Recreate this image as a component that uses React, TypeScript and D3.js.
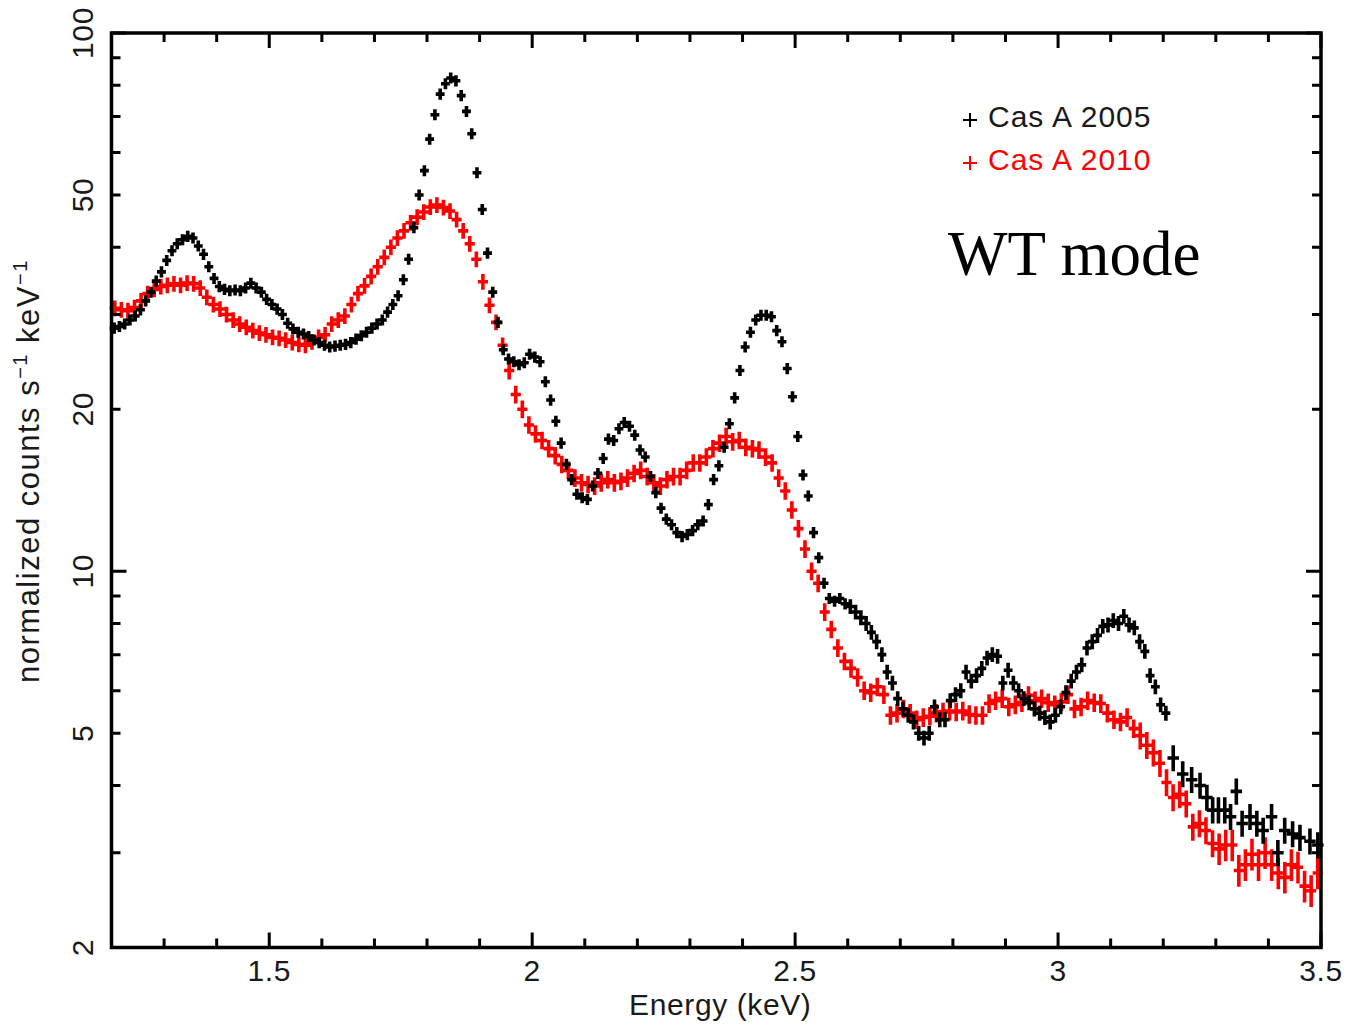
import React from 'react';
import * as d3 from 'd3';

// ---------- data ----------
// Cas A 2005 (black): bins of 0.01 keV starting at 1.205 keV
const blackValues = [
  28.3, 28.5, 28.8, 29.3, 29.8, 30.6, 31.8, 33.0, 34.6, 36.0,
  37.8, 39.4, 40.6, 41.3, 41.9, 41.6, 40.2, 38.8, 36.8, 35.0,
  33.8, 33.4, 33.2, 33.3, 33.2, 33.6, 34.3, 33.6, 33.0, 32.0,
  31.3, 30.7, 30.0, 28.9, 28.2, 27.8, 27.6, 27.3, 26.9, 26.6,
  26.3, 26.1, 26.2, 26.3, 26.4, 26.6, 27.0, 27.4, 27.8, 28.3,
  28.8, 29.3, 30.3, 31.3, 32.5, 34.8, 38.0, 43.5, 50.0, 55.5,
  63.5, 70.5, 77.0, 80.5, 82.5, 81.5, 76.5, 71.5, 65.0, 55.0,
  47.0, 39.0, 33.0, 29.0, 25.8, 24.8, 24.5, 24.2, 24.4, 25.3,
  25.0, 24.5, 22.5, 20.8, 19.0, 17.3, 15.8, 14.8, 13.9, 13.7,
  13.6, 14.4, 15.2, 16.2, 17.6, 17.5, 18.4, 18.9, 18.6, 17.9,
  16.8, 16.3, 15.0, 14.0, 13.1, 12.5, 12.2, 11.8, 11.6, 11.7,
  11.9, 12.2, 12.4, 13.3, 14.8, 15.7, 17.0, 18.8, 21.0, 23.6,
  26.1, 27.8, 29.3, 29.9, 29.9, 29.7, 28.0, 26.7, 23.8, 21.1,
  17.8, 15.1, 13.8, 11.8, 10.6, 9.5, 8.9, 8.8, 8.9, 8.7,
  8.6, 8.4, 8.2, 8.0, 7.7, 7.4, 7.0, 6.5, 6.2, 5.8,
  5.55, 5.4, 5.25, 5.0, 4.9, 5.0, 5.6, 5.3, 5.3, 5.75,
  5.9, 6.0, 6.5, 6.25, 6.4, 6.6, 6.9, 7.0, 6.95, 6.2,
  6.55, 6.2, 6.0, 5.8, 5.7, 5.55, 5.45, 5.35, 5.25, 5.4,
  5.6, 5.95, 6.25, 6.5, 6.7, 7.2, 7.4, 7.6, 7.9, 7.95,
  8.1, 8.0, 8.25, 7.95, 7.85, 7.4, 7.1, 6.4, 6.1, 5.65,
  5.45,
];
const blackStart = 1.205;
const blackStep = 0.01;

// Cas A 2005 (black) grouped bins above 3.2 keV
const blackTailEnergies = [
  3.219, 3.237, 3.254, 3.27, 3.283, 3.294, 3.305, 3.317, 3.328, 3.339,
  3.35, 3.365, 3.378, 3.39, 3.406, 3.418, 3.431, 3.446, 3.46, 3.479, 3.494,
];
const blackTailValues = [
  4.5, 4.2, 4.1, 4.0, 3.8, 3.6, 3.6, 3.6, 3.5, 3.9,
  3.4, 3.5, 3.4, 3.3, 3.5, 3.0, 3.3, 3.25, 3.2, 3.15, 3.1,
];

// Cas A 2010 (red): bins of 0.0125 keV starting at 1.20625 keV
const redValues = [
  30.8, 30.6, 30.5, 30.9, 31.8, 32.8, 33.4, 33.8, 34.0, 34.2,
  34.0, 34.3, 34.2, 33.6, 32.3, 31.3, 30.7, 30.0, 29.3, 28.8,
  28.4, 28.0, 27.7, 27.5, 27.2, 27.1, 26.9, 26.6, 26.4, 26.3,
  26.7, 27.2, 27.5, 28.8, 29.3, 29.8, 31.3, 32.8, 33.9, 35.3,
  36.8, 38.3, 40.0, 41.6, 42.9, 44.4, 45.5, 46.5, 47.5, 47.9,
  47.4, 46.7, 45.0, 42.9, 40.6, 38.0, 34.5, 31.2, 29.0, 26.3,
  23.6, 21.3, 20.0, 18.7, 18.0, 17.5, 16.9, 16.4, 15.8, 15.4,
  14.9, 14.6, 14.5, 14.4, 14.6, 14.8, 14.6, 14.7, 14.9, 15.2,
  15.4, 15.0, 14.6, 14.4, 14.8, 15.0, 15.0, 15.4, 15.9, 15.9,
  16.3, 16.9, 17.3, 17.8, 17.4, 17.5, 17.0, 16.9, 16.8, 16.3,
  15.9, 14.9, 14.1, 13.0, 12.0, 11.0, 10.0, 9.5, 8.4, 7.8,
  7.2, 6.8, 6.6, 6.35, 6.0, 5.95, 6.1, 5.9, 5.4, 5.45,
  5.55, 5.45, 5.3, 5.35, 5.38, 5.45, 5.48, 5.5, 5.48, 5.5,
  5.42, 5.4, 5.4, 5.68, 5.75, 5.8, 5.6, 5.65, 5.7, 5.88,
  5.75, 5.8, 5.7, 5.65, 5.72, 5.9, 5.55, 5.6, 5.75, 5.7,
  5.68, 5.45, 5.3, 5.25, 5.35, 5.1, 4.95, 4.75, 4.6, 4.4,
  4.05, 3.8, 3.85, 3.7, 3.35, 3.4, 3.3, 3.12, 3.05, 3.1,
  3.1, 2.78, 2.85, 2.98, 2.85, 3.0, 2.85, 2.75, 2.7, 2.85,
  2.82, 2.6, 2.55, 2.75,
];
const redStart = 1.20625;
const redStep = 0.0125;

// relative 1-sigma errors by energy band
const blackErrEdges = [1.2, 2.6, 3.21];
const blackErrFracs = [0.016, 0.024, 0.048];
const redErrEdges = [1.2, 1.95, 2.6, 3.15, 3.3];
const redErrFracs = [0.026, 0.03, 0.032, 0.05, 0.06];

// axes
const xDomain = [1.2, 3.5];
const yDomain = [2, 100];
const xMajorTicks = [1.5, 2, 2.5, 3, 3.5];
const xTickLabels = ['1.5', '2', '2.5', '3', '3.5'];
const yLabelTicks = [2, 5, 10, 20, 50, 100];
const yTickLabels = ['2', '5', '10', '20', '50', '100'];
const yMajorTicks = [10, 100];
const legendLabels = ['Cas A 2005', 'Cas A 2010'];
const seriesColors = ['#000000', '#ff0000'];

// ---------- layout ----------
const W = 1345;
const H = 1025;
const L = 111.5;
const R = 1321;
const T = 33;
const B = 947.5;
const SANS = '"Liberation Sans", Arial, Helvetica, sans-serif';
const TXT = '#1a1a1a';

function errFrac(e: number, edges: number[], fracs: number[]) {
  let f = fracs[0];
  for (let i = 0; i < edges.length; i++) if (e >= edges[i]) f = fracs[i];
  return f;
}

export default function App() {
  const x = d3.scaleLinear().domain(xDomain).range([L, R]);
  const y = d3.scaleLog().domain(yDomain).range([B, T]);

  const blackPts = blackValues.map((v, i) => ({ e: blackStart + i * blackStep, v, hw: blackStep / 2 }));
  const tailHw = 0.0075;
  const blackTail = blackTailEnergies.map((e, i) => ({ e, v: blackTailValues[i], hw: tailHw }));
  const black = [...blackPts, ...blackTail];
  const red = redValues.map((v, i) => ({ e: redStart + i * redStep, v, hw: redStep / 2 }));

  const crossPath = (pts: { e: number; v: number; hw: number }[], edges: number[], fracs: number[]) =>
    pts
      .map((p) => {
        const f = errFrac(p.e, edges, fracs);
        const cx = x(p.e);
        const cy = y(p.v);
        const x0 = x(p.e - p.hw);
        const x1 = x(p.e + p.hw);
        const y0 = y(p.v * (1 + f));
        const y1 = y(p.v * (1 - f));
        return `M${x0},${cy}H${x1}M${cx},${y0}V${y1}`;
      })
      .join('');

  const xMinor = d3.range(12, 36).map((d) => d / 10);
  const yMinor: number[] = [];
  [1, 10].forEach((dec) => {
    for (let k = 2; k <= 9; k++) yMinor.push(k * dec);
  });

  const minorLen = 9;
  const majorLen = 15;

  const tickPaths: string[] = [];
  xMinor.forEach((t) => {
    const isMajor = xMajorTicks.some((m) => Math.abs(m - t) < 1e-6);
    const len = isMajor ? majorLen : minorLen;
    const px = x(t);
    tickPaths.push(`M${px},${B}V${B - len}`);
    tickPaths.push(`M${px},${T}V${T + len}`);
  });
  [...yMinor, ...yMajorTicks].forEach((t) => {
    if (t < yDomain[0] || t > yDomain[1]) return;
    const isMajor = yMajorTicks.includes(t);
    const len = isMajor ? majorLen : minorLen;
    const py = y(t);
    tickPaths.push(`M${L},${py}H${L + len}`);
    tickPaths.push(`M${R},${py}H${R - len}`);
  });

  return (
    <div style={{ position: 'absolute', left: 0, top: 0, width: W, height: H, background: '#fff' }}>
      <svg width={W} height={H} viewBox={`0 0 ${W} ${H}`} style={{ display: 'block' }}>
        <rect x={0} y={0} width={W} height={H} fill="#fff" />

        {/* data */}
        <path d={crossPath(red, redErrEdges, redErrFracs)} stroke={seriesColors[1]} strokeWidth={3.6} strokeLinecap="square" fill="none" />
        <path d={crossPath(black, blackErrEdges, blackErrFracs)} stroke={seriesColors[0]} strokeWidth={3.6} strokeLinecap="square" fill="none" />

        {/* frame & ticks */}
        <path d={tickPaths.join('')} stroke="#000" strokeWidth={3} fill="none" />
        <rect x={L} y={T} width={R - L} height={B - T} fill="none" stroke="#000" strokeWidth={3.5} />

        {/* x tick labels */}
        {xMajorTicks.map((t, i) => (
          <text key={'xl' + i} x={x(t)} y={981} textAnchor="middle" fontFamily={SANS} fontSize={30} letterSpacing={0.6} fill={TXT}>
            {xTickLabels[i]}
          </text>
        ))}
        {/* y tick labels */}
        {yLabelTicks.map((t, i) => (
          <text
            key={'yl' + i}
            transform={`translate(93,${y(t)}) rotate(-90)`}
            textAnchor="middle"
            fontFamily={SANS}
            fontSize={30}
            letterSpacing={0.6}
            fill={TXT}
          >
            {yTickLabels[i]}
          </text>
        ))}

        {/* axis titles */}
        <text x={(L + R) / 2 + 4} y={1015} textAnchor="middle" fontFamily={SANS} fontSize={30} letterSpacing={0.6} fill={TXT}>
          Energy (keV)
        </text>
        <text transform="translate(38.5,683) rotate(-90)" fontFamily={SANS} fontSize={31} letterSpacing={1.5} fill={TXT}>
          normalized counts s
          <tspan dy={-12} fontSize={20}>−1</tspan>
          <tspan dy={12}> keV</tspan>
          <tspan dy={-12} fontSize={20}>−1</tspan>
        </text>

        {/* legend */}
        {legendLabels.map((lab, i) => {
          const cy = 120 + i * 43;
          return (
            <g key={'lg' + i}>
              <path d={`M963,${cy}H977M970,${cy - 7}V${cy + 7}`} stroke={seriesColors[i]} strokeWidth={2} />
              <text x={988} y={cy + 7} fontFamily={SANS} fontSize={30} letterSpacing={1} fill={i === 0 ? TXT : seriesColors[i]}>
                {lab}
              </text>
            </g>
          );
        })}

        <text x={948} y={275} fontFamily='"Liberation Serif", "Times New Roman", Times, serif' fontSize={63} fill="#000">
          WT mode
        </text>
      </svg>
    </div>
  );
}
